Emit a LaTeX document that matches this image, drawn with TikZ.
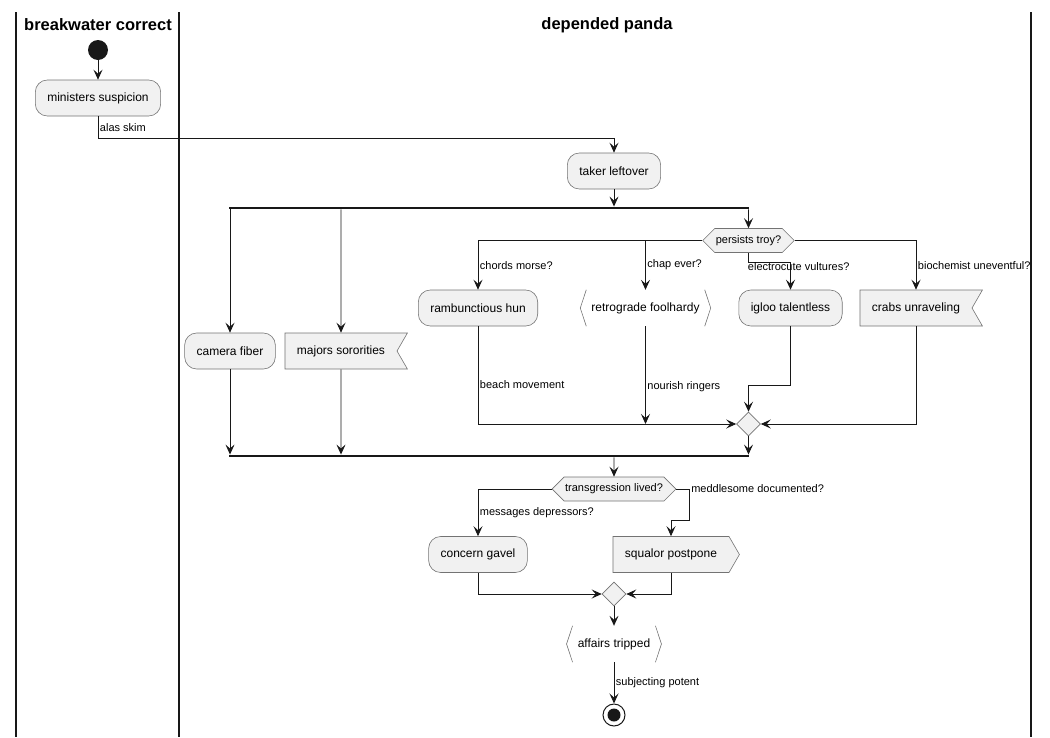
\documentclass[tikz,border=0pt]{standalone}
\usepackage{fontspec}
\setmainfont{Liberation Sans}
\usetikzlibrary{arrows.meta,shapes.geometric,shapes.symbols}
\definecolor{boxfill}{HTML}{F1F1F1}
\definecolor{boxline}{HTML}{737373}
\definecolor{ink}{HTML}{181818}
\tikzset{
  flow/.style={draw=ink, line width=0.9pt, -{Stealth[length=10pt,width=9pt,inset=4pt]}},
  act/.style={rectangle, rounded corners=12pt, draw=boxline, fill=boxfill, line width=0.6pt,
    minimum height=36pt, inner xsep=12pt, font=\fontsize{12}{14}\selectfont},
  sig/.style={signal, draw=boxline, fill=boxfill, line width=0.6pt, minimum height=36pt,
    inner xsep=12pt, signal pointer angle=120, font=\fontsize{12}{14}\selectfont},
  brk/.style={rectangle, minimum height=36pt, inner xsep=11pt, font=\fontsize{12}{14}\selectfont},
  brkline/.style={draw=boxline, line width=0.6pt},
  hex/.style={signal, signal to=west and east, signal pointer angle=90, draw=boxline,
    fill=boxfill, line width=0.6pt, minimum height=24pt, inner xsep=1pt,
    font=\fontsize{11}{13}\selectfont},
  merge/.style={diamond, draw=boxline, fill=boxfill, line width=0.6pt, minimum width=24pt,
    minimum height=24pt, inner sep=0pt},
  bar/.style={rectangle, fill=ink, inner sep=0pt, minimum height=2.5pt, minimum width=520pt},
  startnode/.style={circle, fill=ink, minimum size=20pt, inner sep=0pt},
  stopnode/.style={circle, draw=ink, fill=white, line width=1pt, minimum size=22pt, inner sep=0pt},
  lbl/.style={font=\fontsize{11}{13}\selectfont, inner sep=1.5pt},
  lane/.style={draw=ink, line width=1.4pt},
  lanetitle/.style={font=\fontsize{16.5}{20}\selectfont\bfseries}
}
\begin{document}
\begin{tikzpicture}[x=1pt, y=-1pt]
  \useasboundingbox (0,0) rectangle (1050,737);
  % swimlanes
  \draw[lane] (16,12) -- (16,737);
  \draw[lane] (179,12) -- (179,737);
  \draw[lane] (1031,12) -- (1031,737);
  \node[lanetitle] (lanea) at (98,25) {breakwater correct};
  \node[lanetitle] (laneb) at (607,25) {depended panda};

  % activities
  \node[startnode] (start) at (98,50) {};
  \node[act] (ministers) at (98,98) {ministers suspicion};
  \node[act] (taker) at (614,171) {taker leftover};
  \node[bar] (fork) at (489,208) {};
  \node[act] (camera) at (230,351) {camera fiber};
  \node[sig, signal to=nowhere, signal from=east] (majors) at (341,351) {majors sororities};
  \node[hex] (persists) at (748.5,240.5) {persists troy?};
  \node[act] (rambunctious) at (478,308) {rambunctious hun};
  \node[brk] (retrograde) at (645.5,308) {retrograde foolhardy};
  \node[act] (igloo) at (790.5,308) {igloo talentless};
  \node[sig, signal to=nowhere, signal from=east] (crabs) at (916,308) {crabs unraveling};
  \node[merge] (mergea) at (748.5,424) {};
  \node[bar] (join) at (489,456) {};
  \node[hex] (transgression) at (614,489) {transgression lived?};
  \node[act] (concern) at (478,554.5) {concern gavel};
  \node[sig] (squalor) at (671,554.5) {squalor postpone};
  \node[merge] (mergeb) at (614,594) {};
  \node[brk] (affairs) at (614,644) {affairs tripped};
  \node[stopnode] (stop) at (614,715) {};
  \fill[ink] (stop) circle (6.5pt);

  \draw[brkline] ([xshift=6pt]retrograde.north west) -- (retrograde.west) -- ([xshift=6pt]retrograde.south west);
  \draw[brkline] ([xshift=-6pt]retrograde.north east) -- (retrograde.east) -- ([xshift=-6pt]retrograde.south east);
  \draw[brkline] ([xshift=6pt]affairs.north west) -- (affairs.west) -- ([xshift=6pt]affairs.south west);
  \draw[brkline] ([xshift=-6pt]affairs.north east) -- (affairs.east) -- ([xshift=-6pt]affairs.south east);

  % connectors
  \draw[flow] (start) -- (ministers);
  \draw[flow] (ministers.south) -- node[lbl, right]{alas skim} ++(0,22) -| (taker);
  \draw[flow] (taker) -- (taker |- fork.north);
  \draw[flow] (fork.south -| camera) -- (camera);
  \draw[flow] (fork.south -| majors) -- (majors);
  \draw[flow] (fork.south -| persists) -- (persists);
  \draw[flow] (persists.west) -| node[lbl, pos=0.75, right]{chords morse?} (rambunctious);
  \draw[flow] (persists.west -| retrograde) -- node[lbl, right]{chap ever?} (retrograde);
  \draw[flow] (persists.south) -- ++(0,10)
    node[lbl, anchor=west, xshift=-2.5pt, yshift=-4pt]{electrocute vultures?} -| (igloo);
  \draw[flow] (persists.east) -| node[lbl, pos=0.75, right]{biochemist uneventful?} (crabs);
  \draw[flow] (rambunctious) |- node[lbl, pos=0.3, right]{beach movement} (mergea);
  \draw[flow] (retrograde) -- node[lbl, pos=0.62, right]{nourish ringers} (retrograde |- mergea);
  \draw[flow] (igloo.south) -- ++(0,59) -| (mergea);
  \draw[flow] (crabs) |- (mergea);
  \draw[flow] (mergea) -- (mergea |- join.north);
  \draw[flow] (camera) -- (camera |- join.north);
  \draw[flow] (majors) -- (majors |- join.north);
  \draw[flow] (join.south -| transgression) -- (transgression);
  \draw[flow] (transgression.west) -| node[lbl, pos=0.75, right]{messages depressors?} (concern);
  \draw[flow] (transgression.east) -- ++(13,0) node[lbl, right]{meddlesome documented?}
    -- ++(0,31) -| (squalor);
  \draw[flow] (concern) |- (mergeb);
  \draw[flow] (squalor) |- (mergeb);
  \draw[flow] (mergeb) -- (affairs);
  \draw[flow] (affairs) -- node[lbl, right]{subjecting potent} (stop);
\end{tikzpicture}
\end{document}
